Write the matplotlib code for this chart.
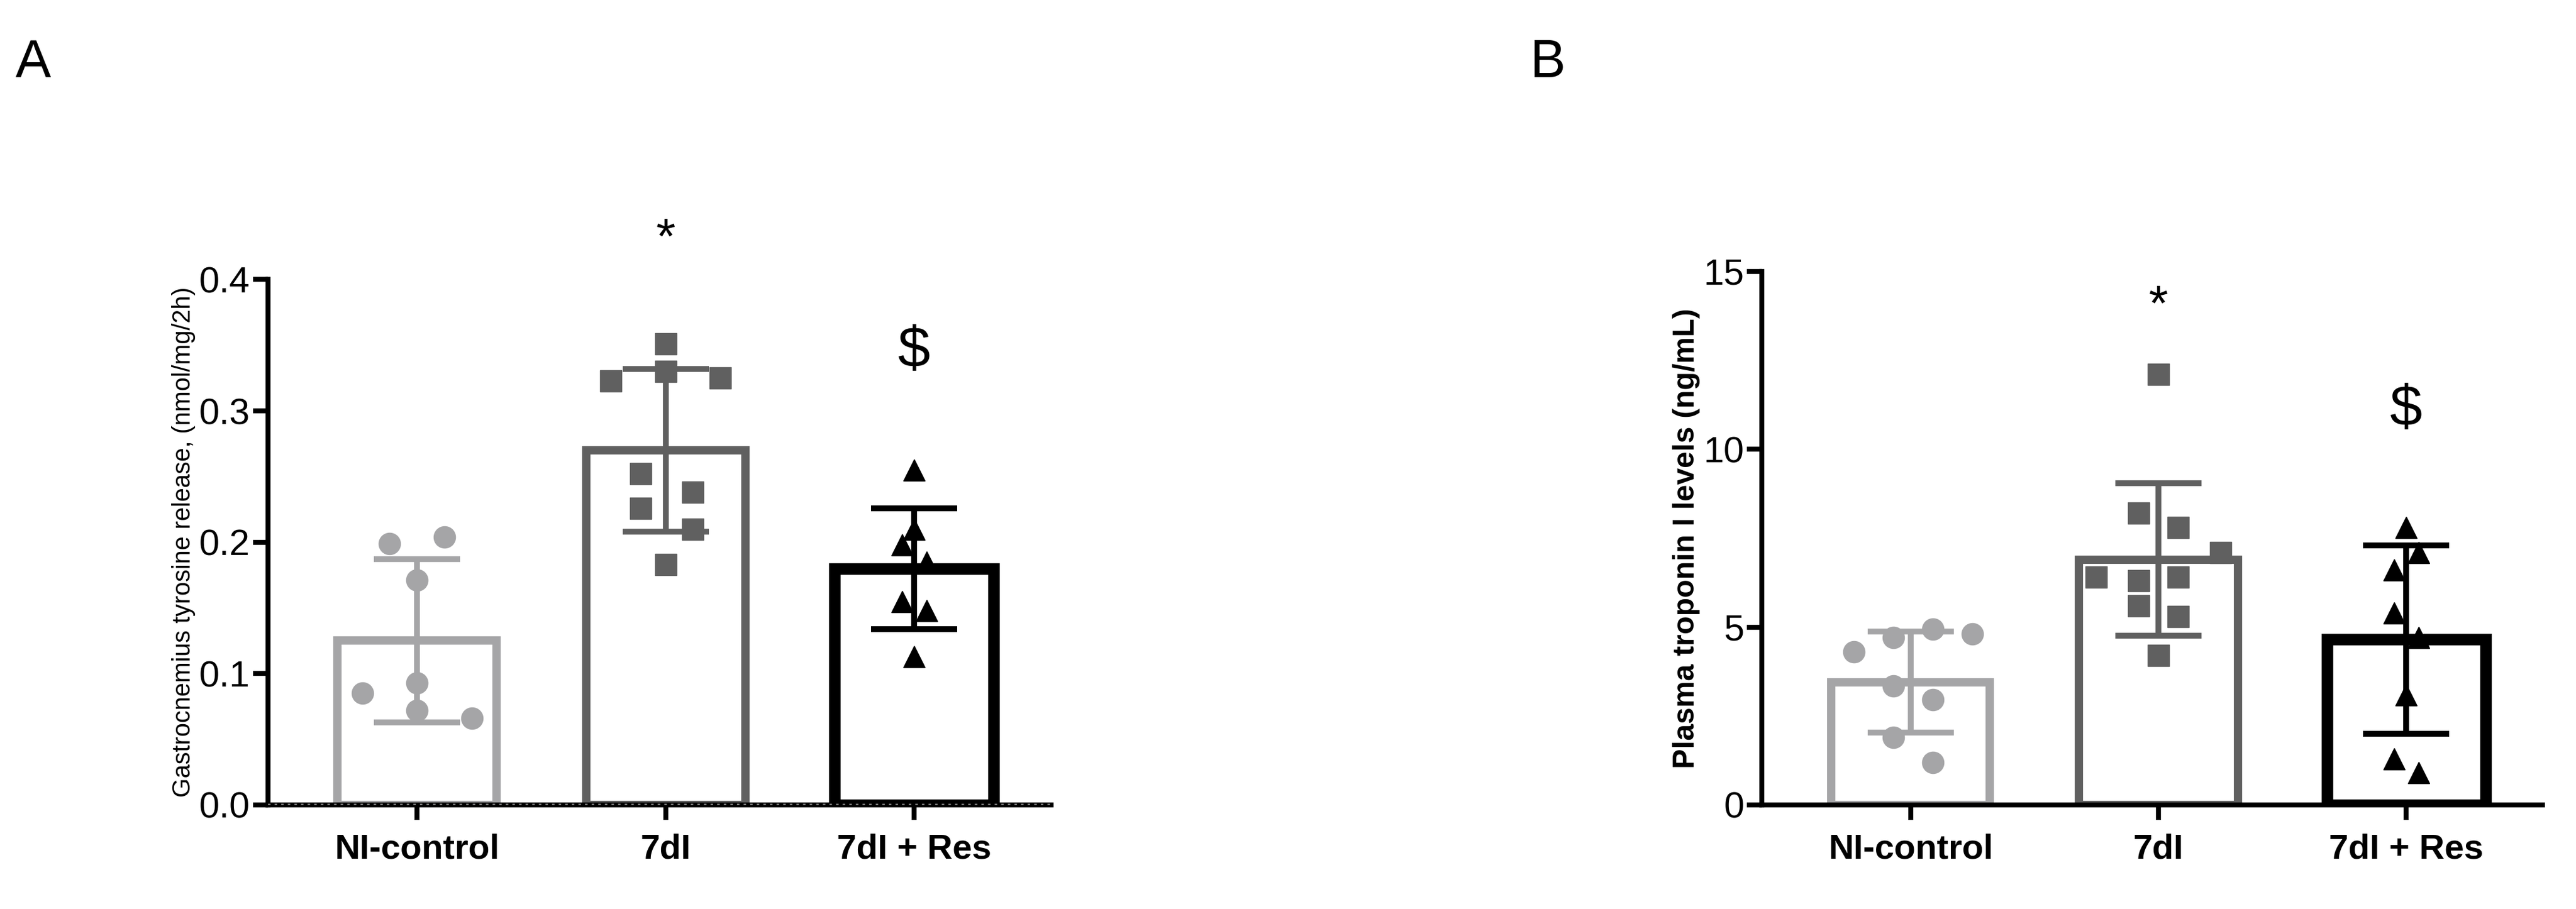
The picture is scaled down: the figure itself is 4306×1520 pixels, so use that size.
import matplotlib.pyplot as plt

plt.rcParams['font.family'] = ['Liberation Sans Narrow', 'Liberation Sans', 'DejaVu Sans']

groups = ["NI-control", "7dI", "7dI + Res"]
colors = ["#a5a5a7", "#606060", "#000000"]
markers = ["o", "s", "^"]

# Panel A: gastrocnemius tyrosine release
a_mean = [0.125, 0.270, 0.180]
a_sd = [0.062, 0.062, 0.046]
a_pts = [
    [0.199, 0.204, 0.171, 0.093, 0.085, 0.066, 0.072],
    [0.351, 0.330, 0.323, 0.325, 0.252, 0.238, 0.226, 0.210, 0.183],
    [0.255, 0.210, 0.198, 0.185, 0.155, 0.148, 0.113],
]
a_off = [
    [-0.11, 0.11, 0.0, 0.0, -0.22, 0.22, 0.0],
    [0.0, 0.0, -0.22, 0.22, -0.1, 0.11, -0.1, 0.11, 0.0],
    [0.0, 0.0, -0.05, 0.05, -0.05, 0.05, 0.0],
]

# Panel B: plasma troponin I
b_mean = [3.45, 6.9, 4.65]
b_sd = [1.42, 2.15, 2.65]
b_pts = [
    [4.3, 4.7, 4.95, 4.8, 3.35, 2.95, 1.9, 1.2],
    [12.1, 8.2, 7.8, 7.1, 6.4, 6.3, 6.4, 5.6, 5.3, 4.2],
    [7.8, 7.1, 6.6, 5.4, 4.7, 3.1, 1.3, 0.9],
]
b_off = [
    [-0.23, -0.07, 0.09, 0.25, -0.07, 0.09, -0.07, 0.09],
    [0.0, -0.08, 0.08, 0.25, -0.25, -0.08, 0.08, -0.08, 0.08, 0.0],
    [0.0, 0.05, -0.05, -0.05, 0.05, 0.0, -0.05, 0.05],
]

fig = plt.figure(figsize=(43.06, 15.2), dpi=100)
axA = fig.add_axes([0.104, 0.1145, 0.304, 0.578])
axB = fig.add_axes([0.684, 0.1145, 0.303, 0.587])


def draw(ax, mean, sd, pts, off):
    for i in range(3):
        lw = 14 if i == 2 else 10
        ax.bar(i, mean[i], width=0.64, facecolor="white", edgecolor=colors[i],
               linewidth=lw, zorder=2)
        ax.errorbar(i, mean[i], yerr=sd[i], color=colors[i], elinewidth=7,
                    capsize=52, capthick=7, zorder=3)
        xs = [i + o for o in off[i]]
        ax.plot(xs, pts[i], linestyle="none", marker=markers[i], color=colors[i],
                markersize=26, zorder=4)
    ax.set_xlim(-0.6, 2.55)
    ax.set_xticks(range(3))
    ax.set_xticklabels(groups, fontsize=42, fontweight="bold")
    ax.tick_params(axis="y", labelsize=44, width=6, length=18)
    ax.tick_params(axis="x", width=6, length=18, pad=16)
    for s in ["top", "right"]:
        ax.spines[s].set_visible(False)
    for s in ["left", "bottom"]:
        ax.spines[s].set_linewidth(6)


draw(axA, a_mean, a_sd, a_pts, a_off)
axA.set_ylim(0, 0.4)
axA.set_yticks([0.0, 0.1, 0.2, 0.3, 0.4])
axA.set_yticklabels(["0.0", "0.1", "0.2", "0.3", "0.4"])
axA.axhline(0, color="#808080", linestyle=":", linewidth=3, zorder=5)
axA.set_ylabel("Gastrocnemius tyrosine release, (nmol/mg/2h)", fontsize=30)
axA.text(1, 0.43, "*", ha="center", va="center", fontsize=60)
axA.text(2, 0.345, "$", ha="center", va="center", fontsize=70)

draw(axB, b_mean, b_sd, b_pts, b_off)
axB.set_ylim(0, 15)
axB.set_yticks([0, 5, 10, 15])
axB.set_ylabel("Plasma troponin I levels (ng/mL)", fontsize=36, fontweight="bold")
axB.text(1, 14.0, "*", ha="center", va="center", fontsize=60)
axB.text(2, 11.1, "$", ha="center", va="center", fontsize=70)

fig.text(0.006, 0.93, "A", fontsize=64, family=["Liberation Sans", "DejaVu Sans"], va="center")
fig.text(0.594, 0.93, "B", fontsize=64, family=["Liberation Sans", "DejaVu Sans"], va="center")

fig.savefig("out.png", dpi=100)
